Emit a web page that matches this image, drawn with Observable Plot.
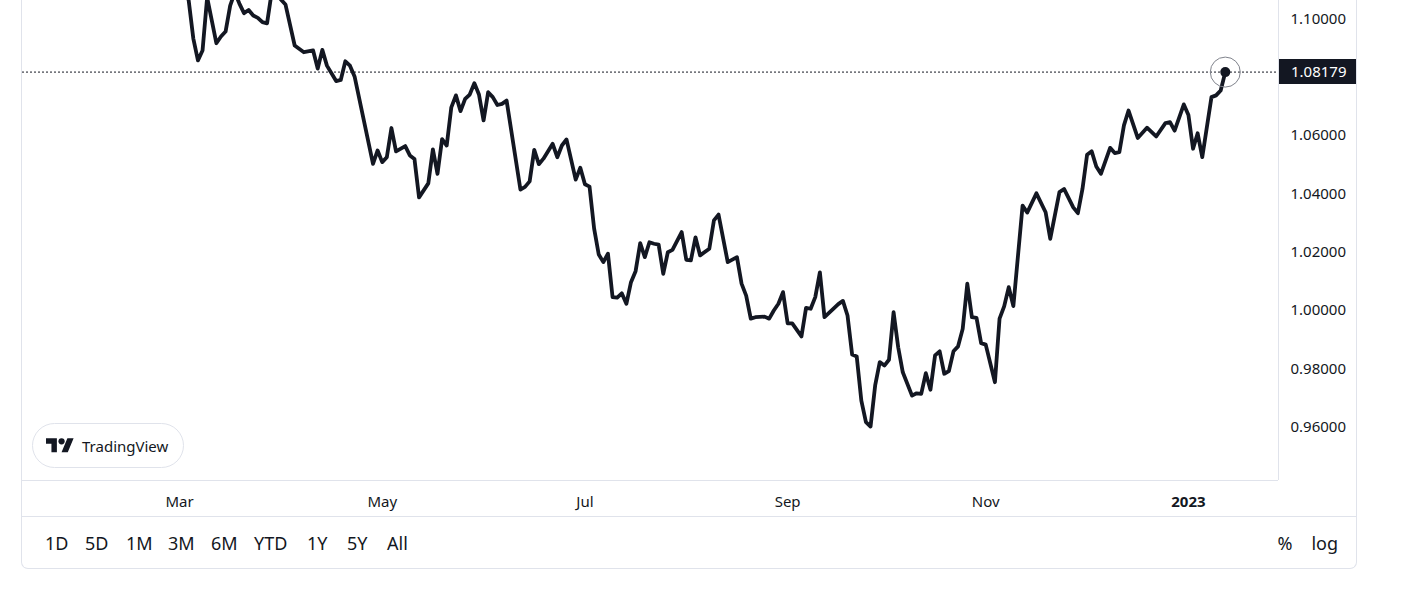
<!DOCTYPE html>
<html><head><meta charset="utf-8">
<script src="https://cdn.jsdelivr.net/npm/d3@7"></script>
<script src="https://cdn.jsdelivr.net/npm/@observablehq/plot@0.6"></script>
<style>
html,body{margin:0;padding:0;background:#fff;}
body{width:1408px;height:592px;position:relative;overflow:hidden;font-family:"Noto Sans",sans-serif;color:#131722;}
#frame{position:absolute;left:21px;top:-2px;width:1334px;height:570px;border:1px solid #e0e3eb;border-top:none;border-radius:0 0 7px 7px;}
#chart{position:absolute;left:0;top:0;z-index:1;}
#sep{position:absolute;left:22px;top:516px;width:1334px;height:1px;background:#e0e3eb;}
#toolbar{position:absolute;left:22px;top:517px;width:1334px;height:51px;display:flex;align-items:center;font-size:18px;}
#ranges{display:flex;margin-left:23px;}
#ranges span{display:inline-block;width:40px;}
#ranges span:nth-child(2){width:41px;}
#ranges span:nth-child(3){width:42px;}
#ranges span:nth-child(4),#ranges span:nth-child(5){width:43px;}
#ranges span:nth-child(6){width:53px;}
#scales{display:flex;gap:19px;position:absolute;right:18px;top:0;height:51px;align-items:center;}
#badge{position:absolute;left:32px;top:423px;width:150px;height:43px;border:1px solid #e0e3eb;border-radius:23px;background:#fff;z-index:2;display:flex;align-items:center;}
#badge svg{margin-left:13px;}
#badge span{margin-left:8px;font-size:15px;color:#131722;}
#price{position:absolute;left:1279px;width:77px;height:25px;background:#131722;color:#fff;font-size:15px;line-height:25px;box-sizing:border-box;padding-left:12px;z-index:3;}
</style></head>
<body>
<div id="frame"></div>
<div id="sep"></div>
<div id="chart"></div>
<div id="toolbar"><div id="ranges"></div><div id="scales"></div></div>
<div id="badge"><svg width="28" height="22" viewBox="0 0 36 28"><path fill="#131722" d="M14 22H7V11H0V4h14v18zM28 22h-8l7.5-18h8L28 22z"/><circle fill="#131722" cx="20" cy="8" r="4"/></svg><span>TradingView</span></div>
<div id="price"></div>
<script>
// trading session number, counted from 1 Mar 2022 (= 0), weekdays only
const session = [1,2,3,4,5,6,8,9,10,11,12,13,14,15,16,17,18,19,20,21,22,23,25,27,29,30,31,32,34,35,36,37,38,
42,43,44,45,46,47,49,50,51,52,53,54,55,56,57,58,59,60,61,62,63,64,65,66,67,68,69,70,71,
74,75,76,77,78,79,81,82,83,84,86,87,88,89,90,91,92,93,94,95,96,97,98,99,100,101,102,103,104,105,106,107,
109,110,111,112,113,115,116,117,119,121,122,123,124,125,127,128,129,130,131,132,133,135,136,137,138,139,140,
143,144,145,146,147,148,149,150,151,152,153,154,155,156,157,159,160,161,162,163,164,165,166,167,168,169,170,
171,172,173,174,175,177,178,179,180,181,183,184,186,188,189,191,192,194,195,196,197,198,199,200,
202,203,204,205,206,208,210,212,214,215,216,218,219,220,221,222,224,225,226,227];
const close = [1.1120,1.1063,1.0933,1.0858,1.0892,1.1074,1.0917,1.0940,1.0957,1.1046,1.1091,1.1053,1.1020,1.1031,1.1012,1.1004,1.0989,1.0985,1.1091,1.1159,1.1067,1.1050,1.0909,1.0886,1.0892,1.0830,1.0894,1.0840,1.0787,1.0791,1.0855,1.0840,1.0803,
1.0503,1.0549,1.0509,1.0526,1.0626,1.0546,1.0564,1.0532,1.0520,1.0388,1.0412,1.0436,1.0553,1.0469,1.0588,1.0566,1.0697,1.0738,1.0684,1.0726,1.0741,1.0780,1.0741,1.0652,1.0749,1.0732,1.0705,1.0709,1.0720,
1.0415,1.0424,1.0443,1.0551,1.0502,1.0521,1.0572,1.0526,1.0566,1.0587,1.0449,1.0490,1.0433,1.0425,1.0281,1.0192,1.0166,1.0195,1.0046,1.0044,1.0059,1.0023,1.0097,1.0135,1.0231,1.0183,1.0234,1.0229,1.0226,1.0126,1.0200,1.0208,
1.0269,1.0174,1.0172,1.0251,1.0189,1.0212,1.0309,1.0329,1.0166,1.0183,1.0092,1.0051,0.9972,0.9977,0.9979,0.9972,1.0000,1.0023,1.0063,0.9956,0.9956,0.9911,1.0009,1.0006,1.0046,1.0131,0.9977,
1.0022,1.0033,0.9983,0.9849,0.9842,0.9691,0.9617,0.9602,0.9743,0.9823,0.9811,0.9831,0.9994,0.9874,0.9788,0.9708,0.9716,0.9714,0.9785,0.9728,0.9846,0.9860,0.9783,0.9792,0.9860,0.9877,0.9937,
1.0092,0.9977,0.9975,0.9888,0.9883,0.9754,0.9972,1.0014,1.0080,1.0015,1.0360,1.0336,1.0402,1.0337,1.0246,1.0406,1.0417,1.0354,1.0334,1.0417,1.0534,1.0546,1.0494,1.0469,
1.0558,1.0540,1.0543,1.0635,1.0686,1.0592,1.0627,1.0597,1.0643,1.0646,1.0617,1.0707,1.0671,1.0555,1.0608,1.0526,1.0732,1.0738,1.0755,1.08179];
const yTicks = [0.96, 0.98, 1.00, 1.02, 1.04, 1.06, 1.10];
const xTickSessions = [0, 44, 88, 132, 175, 219];
const xTickLabels = ["Mar", "May", "Jul", "Sep", "Nov", "2023"];
const rangeButtons = ["1D","5D","1M","3M","6M","YTD","1Y","5Y","All"];
const scaleButtons = ["%","log"];

const data = session.map((s, i) => ({s, v: close[i]}));
const last = data[data.length - 1];
const xDomain = [-34.08, 238.55];
const yDomain = [0.94168, 1.10635];
const labelOf = d => xTickLabels[xTickSessions.indexOf(d)];
const isYear = d => /^\d{4}$/.test(labelOf(d));
const ink = "#131722", border = "#e0e3eb";

const chart = Plot.plot({
  width: 1408, height: 516,
  marginLeft: 22, marginRight: 130, marginTop: 0, marginBottom: 36,
  x: {domain: xDomain},
  y: {domain: yDomain},
  style: {background: "transparent", fontFamily: "'Noto Sans', sans-serif", fontSize: "15px", color: ink},
  marks: [
    Plot.ruleX([xDomain[1]], {stroke: border}),
    Plot.ruleY([yDomain[0]], {stroke: border}),
    Plot.ruleY([last.v], {stroke: ink, strokeDasharray: "2,2", strokeWidth: 1}),
    Plot.line(data, {x: "s", y: "v", stroke: ink, strokeWidth: 3.8, strokeLinejoin: "round", clip: true}),
    Plot.dot([last], {x: "s", y: "v", r: 15, stroke: "#80838c", strokeWidth: 1, fill: "none"}),
    Plot.dot([last], {x: "s", y: "v", r: 5, fill: ink}),
    Plot.axisY(yTicks, {anchor: "right", tickSize: 0, tickPadding: 12, tickFormat: d3.format(".5f"), label: null}),
    Plot.axisX(xTickSessions.filter(d => !isYear(d)), {anchor: "bottom", tickSize: 0, tickPadding: 16, tickFormat: labelOf, label: null}),
    Plot.axisX(xTickSessions.filter(isYear), {anchor: "bottom", tickSize: 0, tickPadding: 16, tickFormat: labelOf, label: null, fontWeight: "bold"})
  ]
});
document.getElementById("chart").appendChild(chart);

const py = chart.scale("y").apply(last.v);
const price = document.getElementById("price");
price.style.top = (py - 12.5) + "px";
price.textContent = d3.format(".5f")(last.v);

const ranges = document.getElementById("ranges");
rangeButtons.forEach(t => { const s = document.createElement("span"); s.textContent = t; ranges.appendChild(s); });
const scales = document.getElementById("scales");
scaleButtons.forEach(t => { const s = document.createElement("span"); s.textContent = t; scales.appendChild(s); });
</script>
</body></html>
